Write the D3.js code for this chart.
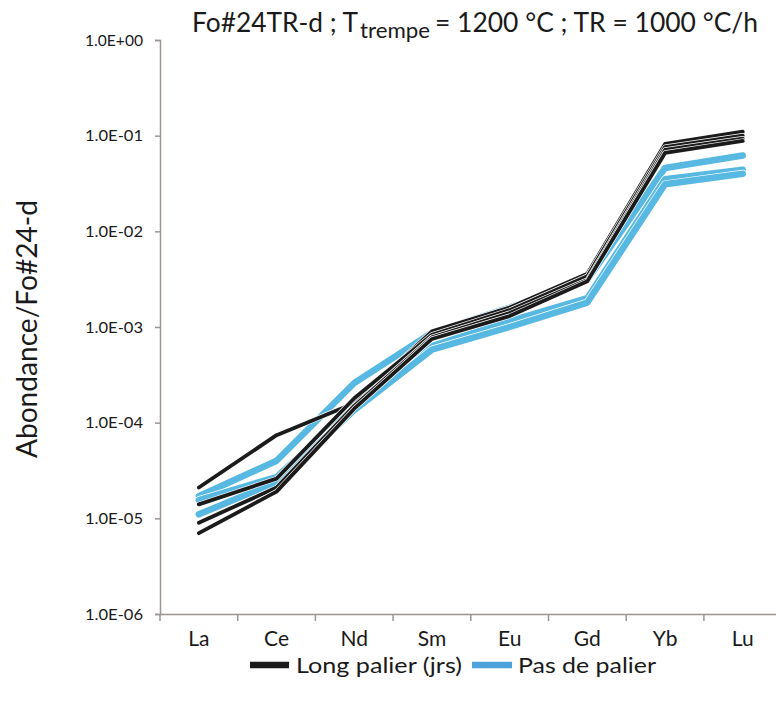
<!DOCTYPE html>
<html>
<head>
<meta charset="utf-8">
<script src="https://cdn.jsdelivr.net/npm/d3@7"></script>
<style>
  html, body { margin: 0; padding: 0; background: #fff; }
  svg { display: block; }
  text { font-family: Lato, "Open Sans", sans-serif; fill: #1a1a1a; }
</style>
</head>
<body>
<svg id="chart" width="776" height="702"></svg>
<script>
// ---- data ----
const categories = ["La", "Ce", "Nd", "Sm", "Eu", "Gd", "Yb", "Lu"];
const yTickValues = [1e-6, 1e-5, 1e-4, 1e-3, 1e-2, 1e-1, 1];
const yTickLabels = ["1.0E-06", "1.0E-05", "1.0E-04", "1.0E-03", "1.0E-02", "1.0E-01", "1.0E+00"];

// Long palier (jrs) – black
const longPalier1 = [2.1e-5, 7.4e-5, 1.6e-4, 9.0e-4, 1.6e-3, 3.6e-3, 8.2e-2, 1.1e-1];
const longPalier2 = [1.4e-5, 2.6e-5, 1.8e-4, 8.3e-4, 1.5e-3, 3.4e-3, 7.6e-2, 1.0e-1];
const longPalier3 = [9.0e-6, 2.1e-5, 1.5e-4, 7.8e-4, 1.4e-3, 3.1e-3, 7.1e-2, 9.3e-2];
const longPalier4 = [7.0e-6, 1.9e-5, 1.4e-4, 7.5e-4, 1.3e-3, 3.0e-3, 6.6e-2, 8.8e-2];

// Pas de palier – blue
const pasPalier1 = [1.7e-5, 4.0e-5, 2.6e-4, 8.7e-4, 1.6e-3, 3.1e-3, 4.6e-2, 6.2e-2];
const pasPalier2 = [1.55e-5, 2.7e-5, 1.5e-4, 6.3e-4, 1.15e-3, 2.0e-3, 3.5e-2, 4.4e-2];
const pasPalier3 = [1.1e-5, 2.4e-5, 1.35e-4, 5.8e-4, 1.0e-3, 1.8e-3, 3.1e-2, 4.0e-2];

const legendLabels = ["Long palier (jrs)", "Pas de palier"];

// ---- layout ----
const svg = d3.select("#chart");
const plotLeft = 160, plotRight = 781.6, plotTop = 40, plotBottom = 614;
const axisColor = "#9d948f";
const black = "#1b1b1b", blue = "#57b8e2", legendBlue = "#4ca3dc";

const x = d3.scaleBand().domain(categories).range([plotLeft, plotRight]).paddingInner(0).paddingOuter(0);
const y = d3.scaleLog().domain([1e-6, 1]).range([plotBottom, plotTop]);

// y axis
const yAxis = d3.axisLeft(y).tickValues(yTickValues)
  .tickFormat((d, i) => yTickLabels[i]).tickSize(5).tickPadding(12);
const gy = svg.append("g").attr("transform", `translate(${plotLeft},0)`).call(yAxis);
gy.select(".domain").attr("stroke", axisColor).attr("stroke-width", 1.5);
gy.selectAll(".tick line").attr("stroke", axisColor).attr("stroke-width", 1.5);
gy.selectAll(".tick text").attr("font-size", 16).attr("fill", "#1a1a1a")
  .attr("textLength", 58).attr("lengthAdjust", "spacingAndGlyphs")
  .style("font-family", "Lato, 'Open Sans', sans-serif");

// x axis
const xAxis = d3.axisBottom(x).tickSize(0).tickPadding(0);
const gx = svg.append("g").attr("transform", `translate(0,${plotBottom})`).call(xAxis);
gx.select(".domain").attr("stroke", axisColor).attr("stroke-width", 1.5);
gx.selectAll(".tick text").remove();
gx.selectAll("line.bnd").data(categories).enter().append("line")
  .attr("class", "bnd")
  .attr("x1", d => x(d)).attr("x2", d => x(d))
  .attr("y1", 0).attr("y2", 7)
  .attr("stroke", axisColor).attr("stroke-width", 1.5);
gx.selectAll("text.cat").data(categories).enter().append("text")
  .attr("class", "cat")
  .attr("x", d => x(d) + x.bandwidth() / 2)
  .attr("y", 32)
  .attr("text-anchor", "middle")
  .attr("font-size", 21)
  .text(d => d);

// lines
const line = d3.line()
  .x((d, i) => x(categories[i]) + x.bandwidth() / 2)
  .y(d => y(d));

const blueSeries = [pasPalier1, pasPalier2, pasPalier3];
const blackSeries = [longPalier1, longPalier2, longPalier3, longPalier4];

function drawSeries(data, color, width) {
  const g = svg.append("g");
  data.forEach(s => {
    g.append("path").datum(s).attr("d", line).attr("fill", "none")
      .attr("stroke", "#fff").attr("stroke-width", width + 1.4)
      .attr("stroke-linejoin", "round").attr("stroke-linecap", "round");
    g.append("path").datum(s).attr("d", line).attr("fill", "none")
      .attr("stroke", color).attr("stroke-width", width)
      .attr("stroke-linejoin", "round").attr("stroke-linecap", "round");
  });
}
drawSeries(blueSeries, blue, 6.5);
drawSeries(blackSeries, black, 3.8);

// title
const title = svg.append("g");
title.append("text").attr("x", 192).attr("y", 32).attr("font-size", 26)
  .attr("textLength", 166).attr("lengthAdjust", "spacingAndGlyphs")
  .text("Fo#24TR-d  ; T");
title.append("text").attr("x", 360).attr("y", 38).attr("font-size", 22)
  .attr("textLength", 70).attr("lengthAdjust", "spacingAndGlyphs")
  .text("trempe");
title.append("text").attr("x", 435).attr("y", 32).attr("font-size", 26)
  .attr("textLength", 323).attr("lengthAdjust", "spacingAndGlyphs")
  .text("= 1200 °C  ;  TR = 1000 °C/h");

// y label
svg.append("text")
  .attr("transform", `translate(37,${(plotTop + plotBottom) / 2 + 2}) rotate(-90)`)
  .attr("text-anchor", "middle")
  .attr("font-size", 29)
  .attr("fill", "#2a2a2a")
  .attr("textLength", 258).attr("lengthAdjust", "spacingAndGlyphs")
  .text("Abondance/Fo#24-d");

// legend
const legend = svg.append("g");
const legY = 665;
legend.append("line").attr("x1", 250).attr("x2", 289).attr("y1", legY).attr("y2", legY)
  .attr("stroke", black).attr("stroke-width", 6.5);
legend.append("text").attr("x", 296).attr("y", legY + 8).attr("font-size", 22)
  .attr("textLength", 166).attr("lengthAdjust", "spacingAndGlyphs").text(legendLabels[0]);
legend.append("line").attr("x1", 472).attr("x2", 512).attr("y1", legY).attr("y2", legY)
  .attr("stroke", legendBlue).attr("stroke-width", 6.5);
legend.append("text").attr("x", 518).attr("y", legY + 8).attr("font-size", 22)
  .attr("textLength", 138).attr("lengthAdjust", "spacingAndGlyphs").text(legendLabels[1]);
</script>
</body>
</html>
